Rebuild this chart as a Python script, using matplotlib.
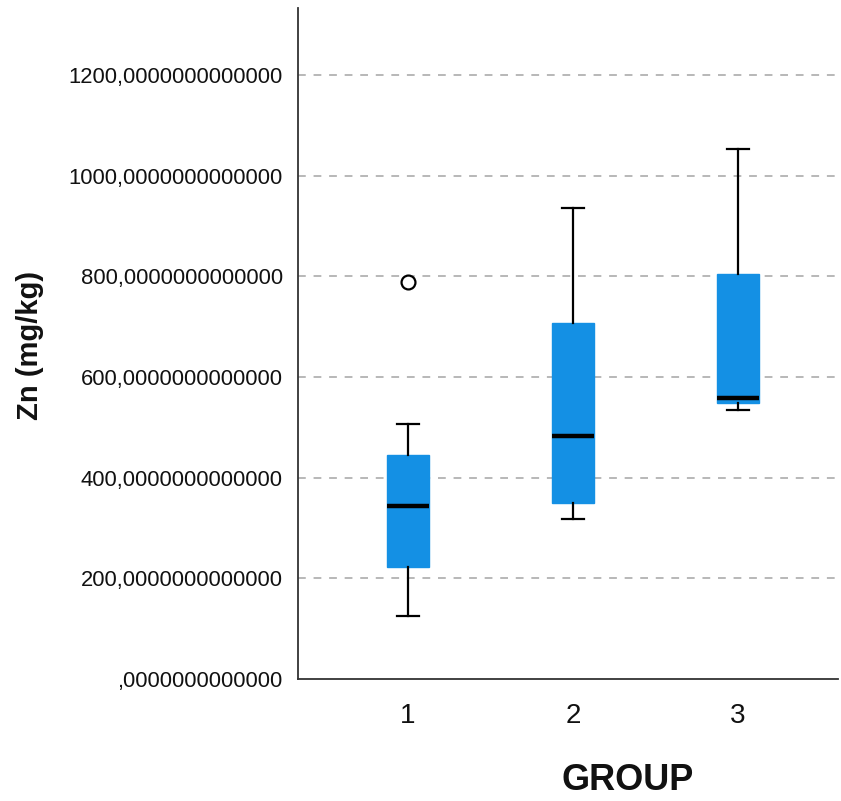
import matplotlib
matplotlib.use("Agg")
import matplotlib.pyplot as plt
from matplotlib.ticker import FixedLocator, FuncFormatter

plt.rcParams['font.family'] = ['Liberation Sans', 'DejaVu Sans']

groups = ["1", "2", "3"]
whisker_low = [125, 318, 534]
q1 = [222, 350, 548]
median = [344, 483, 558]
q3 = [445, 707, 804]
whisker_high = [506, 935, 1053]
outliers = [[788], [], []]
yticks = [0, 200, 400, 600, 800, 1000, 1200]

box_color = "#1490E4"

fig = plt.figure(figsize=(8.41, 8.01), dpi=100)
ax = fig.add_axes([298/841, 1 - 679/801, (838-298)/841, (679-8)/801])

stats = []
for i in range(len(groups)):
    stats.append(dict(med=median[i], q1=q1[i], q3=q3[i],
                      whislo=whisker_low[i], whishi=whisker_high[i],
                      fliers=outliers[i], label=groups[i]))

positions = list(range(1, len(groups) + 1))
ax.bxp(stats, positions=positions, widths=0.255, patch_artist=True,
       showfliers=True,
       boxprops=dict(facecolor=box_color, edgecolor=box_color, linewidth=1),
       medianprops=dict(color="black", linewidth=3.2, solid_capstyle="butt"),
       whiskerprops=dict(color="black", linewidth=1.6),
       capprops=dict(color="black", linewidth=1.6),
       capwidths=0.13,
       flierprops=dict(marker="o", markerfacecolor="white", markeredgecolor="black",
                       markersize=10, markeredgewidth=1.6))

ax.set_xlim(0.333, 3.606)
ax.set_ylim(0, 1333)

ax.yaxis.set_major_locator(FixedLocator(yticks))
def fmt(v, pos):
    s = f"{v:.13f}".replace(".", ",")
    if s.startswith("0,"):
        s = s[1:]
    return s
ax.yaxis.set_major_formatter(FuncFormatter(fmt))

for t in yticks[1:]:
    ax.axhline(t, color="#b8b8b8", linestyle=(0, (4, 4)), linewidth=1.4, zorder=0)

for s in ["top", "right"]:
    ax.spines[s].set_visible(False)
for s in ["left", "bottom"]:
    ax.spines[s].set_color("#333333")
    ax.spines[s].set_linewidth(1.3)

ax.tick_params(axis="y", length=0, pad=11, labelsize=15.8, labelcolor="#111111")
ax.tick_params(axis="x", length=0, pad=17, labelsize=20, labelcolor="#111111")

fig.text(628/841, 1 - 780/801, "GROUP", ha="center", va="center",
         fontsize=26, fontweight="bold", color="#111111")
fig.text(30/841, 1 - 345/801, "Zn (mg/kg)", ha="center", va="center",
         rotation=90, fontsize=21, fontweight="bold", color="#111111")

fig.savefig("out.png", dpi=100)
